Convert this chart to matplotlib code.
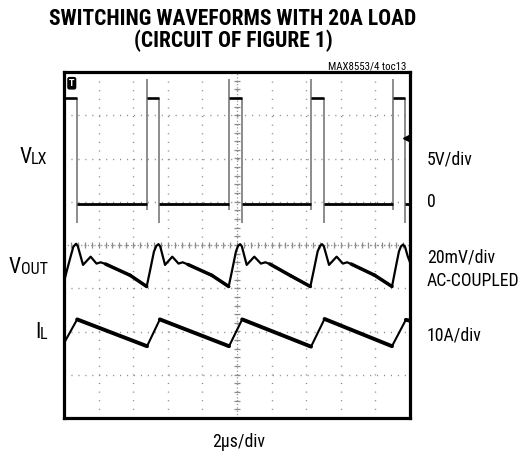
import os
import matplotlib
matplotlib.use('Agg')
import matplotlib.pyplot as plt
from matplotlib import font_manager as fm
import numpy as np

plt.rcParams['lines.scale_dashes'] = False
plt.rcParams['font.family'] = ['Roboto', 'DejaVu Sans']

# ---------------- text ----------------
title_lines = ['SWITCHING WAVEFORMS WITH 20A LOAD', '(CIRCUIT OF FIGURE 1)']
doc_id = 'MAX8553/4 toc13'
x_label = '2\u00b5s/div'
left_labels = [('V', 'LX'), ('V', 'OUT'), ('I', 'L')]
right_labels = ['5V/div', '0', '20mV/div', 'AC-COUPLED', '10A/div']

# ---------------- scope frame ----------------
x_max_us = 20.0          # 10 divisions x 2us
y_half_div = 4           # +-4 vertical divisions

# ---------------- VLX (divisions from screen centre) ----------------
vlx_high = 3.40
vlx_low = 0.95
vlx_spike = 3.84
vlx_rise_dip = 0.80
vlx_fall_under = 0.50
vlx_rise_us = [4.80, 9.55, 14.26, 19.00]
vlx_fall_us = [0.76, 5.52, 10.30, 15.04, 19.72]

# ---------------- VOUT ----------------
vout_t = [0.00, 0.16, 0.34, 0.54, 0.70, 0.80, 1.10, 1.54, 1.88, 2.12, 2.40, 3.82, 4.78,
          4.98, 5.20, 5.34, 5.46, 5.56, 5.84, 6.26, 6.62, 6.86, 7.16, 8.54, 9.52,
          9.72, 9.94, 10.06, 10.18, 10.28, 10.56, 11.00, 11.38, 11.64, 11.90, 13.10, 14.24,
          14.44, 14.66, 14.80, 14.92, 15.02, 15.32, 15.76, 16.12, 16.36, 16.60, 17.96, 18.96,
          19.16, 19.36, 19.48, 19.60, 19.72, 19.86, 20.00]
vout_v = [-0.85, -0.60, -0.33, -0.04, 0.03, -0.03, -0.46, -0.27, -0.43, -0.40, -0.44, -0.70, -0.96,
          -0.58, -0.15, -0.02, 0.02, -0.03, -0.46, -0.27, -0.43, -0.40, -0.45, -0.70, -0.96,
          -0.58, -0.15, -0.02, 0.02, -0.03, -0.46, -0.27, -0.43, -0.40, -0.44, -0.71, -0.96,
          -0.58, -0.15, -0.02, 0.02, -0.03, -0.46, -0.27, -0.43, -0.40, -0.44, -0.70, -0.96,
          -0.55, -0.15, -0.03, 0.01, -0.05, -0.25, -0.40]

# ---------------- IL ----------------
il_t = [0.00, 0.76, 4.80, 5.54, 9.54, 10.30, 14.28, 15.06, 18.96, 19.76, 20.00]
il_v = [-2.27, -1.72, -2.34, -1.72, -2.34, -1.72, -2.35, -1.71, -2.34, -1.73, -1.75]


# ---------------- font selection (narrow fonts preferred) ----------------
_paths = [f.fname for f in fm.fontManager.ttflist]


def pick_font(patterns, fallback):
    for p in patterns:
        for path in _paths:
            if os.path.basename(path).lower().startswith(p):
                return fm.FontProperties(fname=path)
    return fallback


fp_reg = pick_font(['liberationsansnarrow-regular', 'robotocondensed-regular',
                    'notosans-condensed.', 'notosans-condensedregular',
                    'dejavusanscondensed.', 'opensans-condensedregular',
                    'opensans_condensed-regular', 'roboto-regular'],
                   fm.FontProperties(family='Roboto'))
fp_bold = pick_font(['liberationsansnarrow-bold.', 'robotocondensed-black',
                     'robotocondensed-bold.', 'notosans-condensedblack',
                     'notosans-condensedextrabold', 'notosans-condensedbold.',
                     'dejavusanscondensed-bold.', 'opensans-condensedextrabold',
                     'opensans-condensedbold.', 'roboto-black', 'roboto-bold.'],
                    fm.FontProperties(family='Roboto', weight='black'))

# ---------------- figure ----------------
W, H = 530, 453
fig = plt.figure(figsize=(W / 100, H / 100), dpi=100)
ax = fig.add_axes([64 / W, 1 - 418 / H, 346 / W, 346 / H])
ax.set_xlim(0, x_max_us)
ax.set_ylim(-y_half_div, y_half_div)

grid_c = '#8c8c8c'
ax.set_xticks(np.arange(0, x_max_us + 0.1, 2))
ax.set_yticks(np.arange(-y_half_div, y_half_div + 0.1, 1))
ax.tick_params(length=0, labelbottom=False, labelleft=False)
ax.xaxis.grid(True, color=grid_c, lw=1.0, linestyle=(0, (0.8, 5.4)))
ax.yaxis.grid(True, color=grid_c, lw=1.0, linestyle=(0, (0.8, 4.2)))
ax.set_axisbelow(True)

# centre graticule lines with minor ticks
ax.axhline(0, color=grid_c, lw=0.9, linestyle=(0, (0.8, 1.6)), zorder=1)
ax.axvline(x_max_us / 2, color=grid_c, lw=0.9, linestyle=(0, (0.8, 1.6)), zorder=1)
xt = np.arange(0.4, x_max_us, 0.4)
ax.plot(xt, np.zeros(len(xt)), ls='none', marker='|', ms=4, mew=0.9, color=grid_c, zorder=1)
yt = np.arange(-3.8, 3.9, 0.2)
ax.plot(np.full(len(yt), x_max_us / 2), yt, ls='none', marker='_', ms=4, mew=0.9,
        color=grid_c, zorder=1)

for s in ax.spines.values():
    s.set_linewidth(2.3)
    s.set_color('black')

# ---- VLX trace ----
hi_start = [0.0] + vlx_rise_us
hi_end = vlx_fall_us
lo_start = vlx_fall_us
lo_end = vlx_rise_us + [x_max_us]
ax.hlines([vlx_high] * len(hi_start), hi_start, hi_end, color='black', lw=1.9, zorder=4)
ax.hlines([vlx_low] * len(lo_start), lo_start, lo_end, color='black', lw=2.0, zorder=4)
ax.vlines(vlx_rise_us, vlx_rise_dip, vlx_spike, color='#6e6e6e', lw=1.1, zorder=3)
ax.vlines(vlx_fall_us, vlx_fall_under, vlx_high, color='#6e6e6e', lw=1.1, zorder=3)

# ---- VOUT trace ----
ax.plot(vout_t, vout_v, color='black', lw=1.6, zorder=4, solid_joinstyle='round')
for i in range(len(vout_t) - 1):
    if vout_t[i + 1] - vout_t[i] > 0.9:
        ax.plot(vout_t[i:i + 2], vout_v[i:i + 2], color='black', lw=2.5, zorder=4,
                solid_capstyle='round')

# ---- IL trace ----
ax.plot(il_t, il_v, color='black', lw=1.5, zorder=4)
for i in range(len(il_t) - 1):
    if il_v[i + 1] < il_v[i]:
        ax.plot(il_t[i:i + 2], il_v[i:i + 2], color='black', lw=2.8, zorder=4,
                solid_capstyle='round')

# trigger marker and level marker
ax.text(0.45, 3.74, 'T', color='white', fontsize=5.5, fontweight='bold', ha='center',
        va='center', family='DejaVu Sans', zorder=6,
        bbox=dict(boxstyle='round,pad=0.15,rounding_size=0.2', fc='black', ec='black'))
ax.plot([19.74], [2.47], marker='<', ms=4, color='black', zorder=6, ls='none')

# ---------------- texts ----------------
R = fig.canvas.get_renderer()


def width_px(t):
    return t.get_window_extent(R).width


def fit(t, target_w, max_pt):
    w = width_px(t)
    t.set_fontsize(min(max_pt, t.get_fontsize() * target_w / w))
    return t.get_fontsize()


def fx(px):
    return px / W


def fy(py):
    return 1 - py / H


t1 = fig.text(fx(233), fy(25), title_lines[0], ha='center', va='baseline',
              fontproperties=fp_bold, fontsize=15.6)
ts = fit(t1, 367, 15.7)
fig.text(fx(233), fy(47.5), title_lines[1], ha='center', va='baseline',
         fontproperties=fp_bold, fontsize=ts)

tid = fig.text(fx(406), fy(69), doc_id, ha='right', va='baseline',
               fontproperties=fp_reg, fontsize=8.5)
fit(tid, 78, 8.5)

# right-hand labels: common size fitted on the widest one
right_base = [165, 207.3, 262.7, 285.7, 340]
probe = fig.text(0, 0, right_labels[3], fontproperties=fp_reg, fontsize=12.8)
rs = fit(probe, 94, 12.8)
probe.remove()
for lab, py in zip(right_labels, right_base):
    fig.text(fx(427), fy(py), lab, ha='left', va='baseline', fontproperties=fp_reg,
             fontsize=rs)

scale = rs / 12.8

# left-hand labels: main letter + smaller subscript, right edge at ~47.5 px
left_base = [162.7, 273.3, 338.3]
for (main, sub), py in zip(left_labels, left_base):
    tm = fig.text(0, fy(py), main, ha='left', va='baseline', fontproperties=fp_reg,
                  fontsize=15.5 * scale)
    tsb = fig.text(0, fy(py + 0.8), sub, ha='left', va='baseline', fontproperties=fp_reg,
                   fontsize=11.5 * scale)
    wm, wsb = width_px(tm), width_px(tsb)
    right = 47.5
    tsb.set_x(fx(right - wsb))
    tm.set_x(fx(right - wsb - wm + 0.3))

tb = fig.text(fx(238.5), fy(447), x_label, ha='center', va='baseline',
              fontproperties=fp_reg, fontsize=12.8)
fit(tb, 53, 12.8)

fig.savefig('out.png', dpi=100)
